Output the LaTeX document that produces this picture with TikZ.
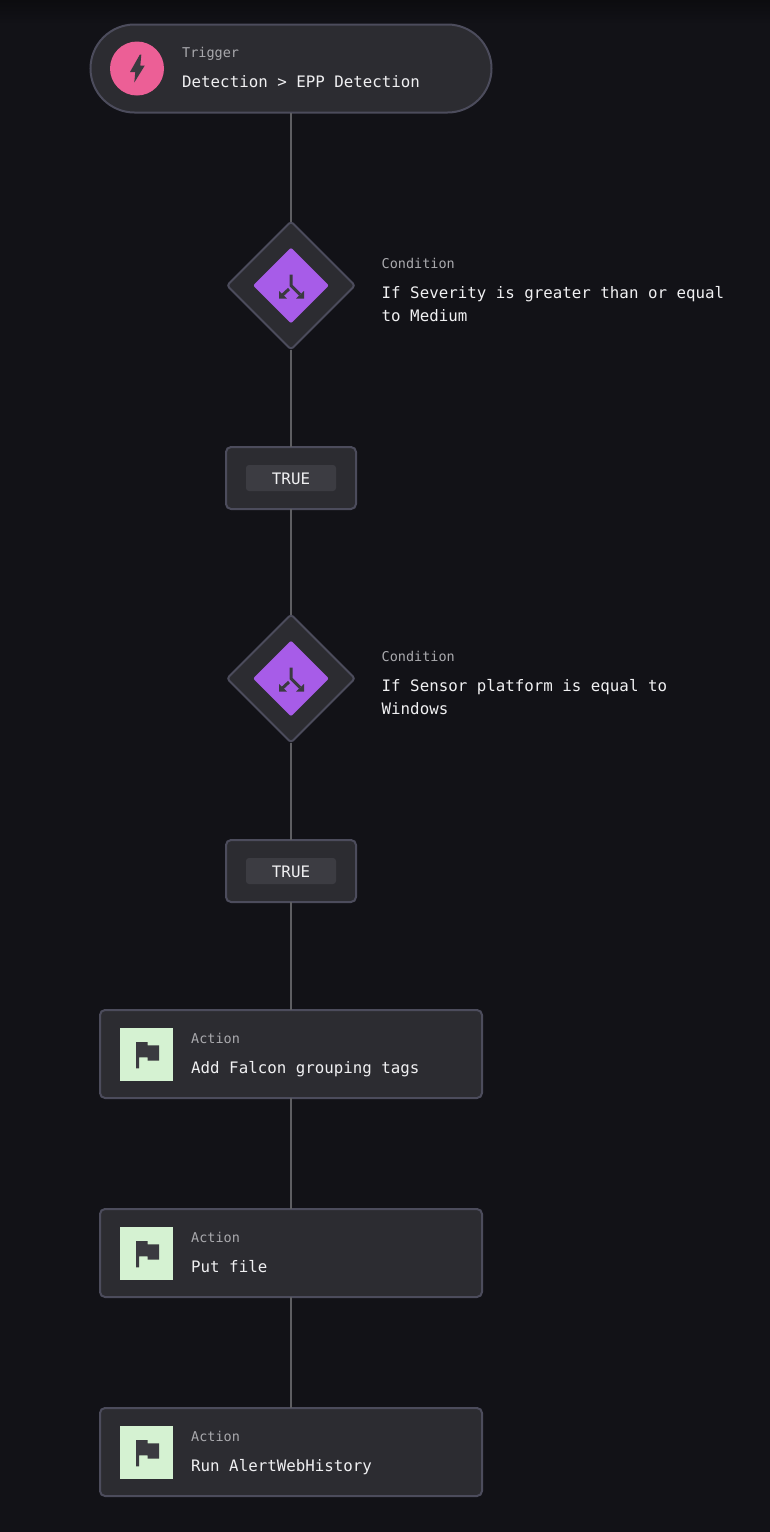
\documentclass[tikz,border=0pt]{standalone}
\usepackage{fontspec}
\setmonofont{DejaVu Sans Mono}
\usetikzlibrary{shapes.geometric}
\definecolor{canvas}{HTML}{121217}
\definecolor{canvastop}{HTML}{0C0C0F}
\definecolor{panel}{HTML}{2C2C31}
\definecolor{rim}{HTML}{4C4C5C}
\definecolor{wirecol}{HTML}{5E5E62}
\definecolor{chipcol}{HTML}{3C3C42}
\definecolor{glyphcol}{HTML}{3A3A40}
\definecolor{pinkcol}{HTML}{EC5F96}
\definecolor{purplecol}{HTML}{A75CE8}
\definecolor{greencol}{HTML}{D5F2D2}
\definecolor{bodytext}{HTML}{F0F0F2}
\definecolor{kindtext}{HTML}{A9A9AD}
\tikzset{
  wire/.style={draw=wirecol,line width=1.5pt},
  panelbox/.style={draw=rim,fill=panel,line width=2pt,inner sep=0pt,outer sep=0pt},
  triggerbox/.style={panelbox,minimum width=401pt,minimum height=88pt,rounded corners=44pt},
  condbox/.style={panelbox,diamond,aspect=1,minimum width=128pt,minimum height=128pt,rounded corners=3pt},
  truebox/.style={panelbox,minimum width=130pt,minimum height=62pt,rounded corners=5pt},
  actionbox/.style={panelbox,minimum width=382pt,minimum height=88pt,rounded corners=5pt},
  condbadge/.style={diamond,aspect=1,fill=purplecol,minimum width=76pt,minimum height=76pt,inner sep=0pt,rounded corners=2pt},
  chip/.style={fill=chipcol,minimum width=90pt,minimum height=26pt,inner sep=0pt,rounded corners=3pt,
    text=bodytext,font=\ttfamily\fontsize{15.8}{18}\selectfont},
  kind/.style={anchor=base west,inner sep=0pt,text=kindtext,font=\ttfamily\fontsize{13.5}{16}\selectfont},
  body/.style={anchor=base west,inner sep=0pt,text=bodytext,font=\ttfamily\fontsize{15.8}{23}\selectfont},
  bodywrap/.style={anchor=west,inner sep=0pt,align=left,text=bodytext,font=\ttfamily\fontsize{15.8}{23}\selectfont},
  splitglyph/.pic={
    \draw[glyphcol,line width=3pt] (0,-11) -- (0,0) -- (9,9);
    \draw[glyphcol,line width=3pt] (-2,3.5) -- (-9,10);
    \fill[glyphcol] (-12,13) -- (-12,5.5) -- (-4,13) -- cycle;
    \fill[glyphcol] (13,13) -- (13,5.5) -- (5,13) -- cycle;
  },
  flagglyph/.pic={
    \fill[glyphcol] (16,14) -- (27.7,14) -- (27.7,17.3) -- (39,17.3) -- (39,32.7) -- (27.7,32.7)
      -- (27.7,29.3) -- (19,29.3) -- (19,40.3) -- (16,40.3) -- cycle;
  },
}
\begin{document}
\begin{tikzpicture}[x=1pt,y=-1pt]
  \useasboundingbox[fill=canvas] (0,0) rectangle (770,1532);
  \fill[top color=canvastop,bottom color=canvas] (0,0) rectangle (770,24);

  \node[triggerbox] (trigger) at (291,68.5) {};
  \node[circle,fill=pinkcol,minimum size=54pt,inner sep=0pt] (bolt) at (137,68.5) {};
  \fill[glyphcol] (139.8,54.7) -- (141.3,54.7) -- (140.3,65.5) -- (144.8,65.5) -- (134.3,82.5) -- (135.3,72) -- (130,72) -- cycle;
  \node[kind] (triggerkind) at (182,57) {Trigger};
  \node[body] (triggertext) at (182,87.5) {Detection > EPP Detection};

  % conditions and their outcomes
  \foreach \n/\yc/\yt/\txt in {1/285.5/478/{If Severity is greater than or equal\\to Medium},
                               2/678.5/871/{If Sensor platform is equal to\\Windows}} {
    \node[condbox] (cond\n) at (291,\yc) {};
    \node[condbadge] (badge\n) at (291,\yc) {};
    \pic at (291,\yc) {splitglyph};
    \node[kind] (condkind\n) at (381.5,\yc-17.5) {Condition};
    \node[bodywrap] (condtext\n) at (381.5,\yc+18.5) {\txt};
    \node[truebox] (true\n) at (291,\yt) {};
    \node[chip] (truechip\n) at (291,\yt) {};
    \node[text=bodytext,inner sep=0pt,font=\ttfamily\fontsize{15.8}{18}\selectfont] (truetext\n) at (291,\yt+0.7) {TRUE};
  }

  \foreach \n/\yc/\txt in {1/1054/Add Falcon grouping tags,2/1253/Put file,3/1452/Run AlertWebHistory} {
    \node[actionbox] (action\n) at (291,\yc) {};
    \node[fill=greencol,minimum size=53pt,inner sep=0pt] (flag\n) at (146.5,\yc) {};
    \pic at (120,\yc-26) {flagglyph};
    \node[kind] (actionkind\n) at (191,\yc-11) {Action};
    \node[body] (actiontext\n) at (191,\yc+19) {\txt};
  }

  \foreach \a/\b in {trigger/cond1,cond1/true1,true1/cond2,cond2/true2,true2/action1,action1/action2,action2/action3}
    \draw[wire] (\a) -- (\b);
\end{tikzpicture}
\end{document}
